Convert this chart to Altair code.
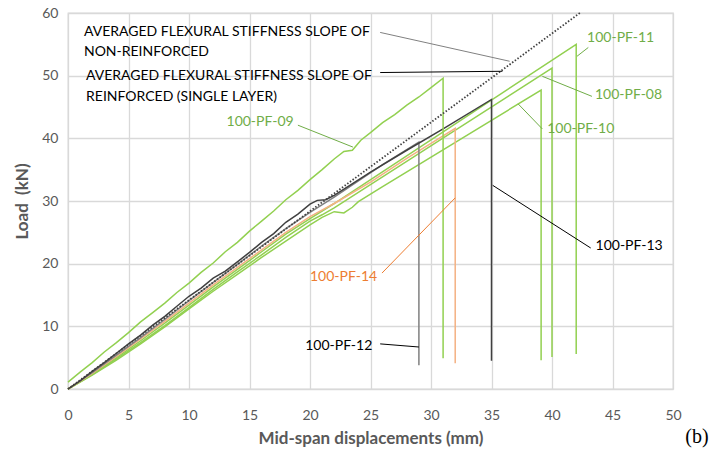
import altair as alt
import pandas as pd

# ---------------- data (mid-span displacement mm, load kN) ----------------
pf09_x = [0, 1, 2, 3, 4, 5, 6, 7, 8, 9, 10, 11, 12, 13, 14, 15, 16, 17, 18, 19, 20, 21, 22, 22.8, 23.5, 24.2, 25, 26, 27, 28, 29, 30, 31, 31]
pf09_y = [1.1, 2.7, 4.2, 5.9, 7.4, 9.0, 10.7, 12.2, 13.7, 15.4, 16.9, 18.6, 20.1, 21.9, 23.4, 25.2, 26.8, 28.4, 30.2, 31.7, 33.4, 35.0, 36.7, 37.9, 38.1, 39.7, 40.9, 42.5, 43.8, 45.3, 46.6, 48.1, 49.6, 4.9]

pf13_x = [0, 1, 2, 3, 4, 5, 6, 7, 8, 9, 10, 11, 12, 13, 14, 15, 16, 17, 18, 19, 20, 20.6, 21.3, 22, 25, 28, 31, 35, 35]
pf13_y = [0, 1.3, 2.8, 4.2, 5.7, 7.2, 8.6, 10.2, 11.6, 13.2, 14.8, 16.1, 17.7, 18.8, 20.3, 21.8, 23.4, 24.8, 26.6, 27.9, 29.5, 30.1, 30.2, 30.9, 34.6, 38.1, 41.5, 46.2, 4.5]

pf12_x = [0, 2, 4, 6, 8, 10, 12, 14, 16, 18, 20, 22, 24, 26, 29, 29]
pf12_y = [0, 2.6, 5.4, 8.2, 11.1, 14.1, 17.0, 19.9, 22.8, 25.6, 28.2, 30.6, 33.2, 35.8, 39.4, 3.8]

pf14_x = [0, 2, 4, 6, 8, 10, 12, 14, 16, 18, 20, 22, 25, 28, 32, 32]
pf14_y = [0, 2.5, 5.2, 8.0, 10.8, 13.7, 16.6, 19.4, 22.2, 25.0, 27.5, 29.6, 33.0, 36.8, 41.6, 4.1]

pf11_x = [0, 2, 4, 6, 8, 10, 12, 14, 16, 18, 20, 22, 42, 42]
pf11_y = [0, 2.4, 5.0, 7.7, 10.5, 13.4, 16.3, 19.1, 21.9, 24.7, 27.2, 29.6, 55.0, 5.6]

pf08_x = [0, 2, 4, 6, 8, 10, 12, 14, 16, 18, 20, 21, 22, 40, 40]
pf08_y = [0, 2.3, 4.8, 7.4, 10.1, 13.0, 15.9, 18.7, 21.4, 24.2, 26.8, 27.8, 28.9, 51.2, 5.1]

pf10_x = [0, 2, 4, 6, 8, 10, 12, 14, 16, 18, 20, 21, 22, 22.8, 23.5, 24, 26, 39.1, 39.1]
pf10_y = [0, 2.2, 4.6, 7.2, 9.9, 12.8, 15.6, 18.3, 21.0, 23.6, 26.2, 27.4, 28.3, 28.1, 29.0, 29.9, 32.3, 47.7, 4.6]

avg_x = [0, 42.3]
avg_y = [0, 60]

series = [
    ("100-PF-10", pf10_x, pf10_y, "#92D050"),
    ("100-PF-08", pf08_x, pf08_y, "#92D050"),
    ("100-PF-11", pf11_x, pf11_y, "#92D050"),
    ("100-PF-14", pf14_x, pf14_y, "#F4B183"),
    ("100-PF-12", pf12_x, pf12_y, "#808080"),
    ("100-PF-13", pf13_x, pf13_y, "#404040"),
    ("100-PF-09", pf09_x, pf09_y, "#92D050"),
]

rows = []
for name, xs_, ys_, _ in series:
    for i, (a, b) in enumerate(zip(xs_, ys_)):
        rows.append({"series": name, "idx": i, "disp": a, "load": b})
df = pd.DataFrame(rows)
avg_df = pd.DataFrame({"disp": avg_x, "load": avg_y, "idx": [0, 1]})

# annotation labels
lab_text = ["AVERAGED FLEXURAL STIFFNESS SLOPE OF", "NON-REINFORCED",
            "AVERAGED FLEXURAL STIFFNESS SLOPE OF", "REINFORCED (SINGLE LAYER)",
            "100-PF-09", "100-PF-11", "100-PF-08", "100-PF-10",
            "100-PF-13", "100-PF-14", "100-PF-12"]
lab_x = [1.32, 1.32, 1.49, 1.49, 13.1, 42.9, 43.55, 39.6, 43.6, 20.0, 19.6]
lab_y = [56.9, 53.7, 49.9, 46.6, 42.6, 56.0, 46.9, 41.5, 22.8, 17.9, 6.9]
lab_col = ["#000000", "#000000", "#000000", "#000000",
           "#70AD47", "#70AD47", "#70AD47", "#70AD47",
           "#000000", "#ED7D31", "#000000"]
labels = pd.DataFrame({"t": lab_text, "x": lab_x, "y": lab_y, "c": lab_col})

# leader lines
ld_x1 = [25.8, 25.8, 19.0, 43.0, 43.3, 39.2, 43.2, 25.95, 25.8]
ld_y1 = [56.9, 50.5, 42.1, 54.5, 46.7, 41.5, 22.5, 18.5, 7.2]
ld_x2 = [36.5, 35.9, 23.55, 42.07, 39.2, 37.2, 35.1, 32.0, 29.0]
ld_y2 = [52.3, 50.7, 38.6, 53.1, 49.9, 45.5, 32.5, 30.5, 6.7]
ld_col = ["#808080", "#000000", "#70AD47", "#70AD47", "#70AD47", "#70AD47",
          "#000000", "#ED7D31", "#000000"]
leaders = pd.DataFrame({"x": ld_x1, "y": ld_y1, "x2": ld_x2, "y2": ld_y2, "c": ld_col})

# ---------------- chart ----------------
xs = alt.Scale(domain=[0, 50], nice=False)
ys = alt.Scale(domain=[0, 60], nice=False)

x_axis = alt.Axis(values=list(range(0, 51, 5)), title="Mid-span displacements (mm)",
                  labelPadding=19, titlePadding=8, labelFlush=False)
y_axis = alt.Axis(values=list(range(0, 61, 10)), title="Load\u00a0 (kN)",
                  labelPadding=10, titlePadding=10, labelFlush=False)

lines = alt.Chart(df).mark_line(strokeWidth=1.5).encode(
    x=alt.X("disp:Q", scale=xs, axis=x_axis),
    y=alt.Y("load:Q", scale=ys, axis=y_axis),
    color=alt.Color("series:N",
                    scale=alt.Scale(domain=[s[0] for s in series], range=[s[3] for s in series]),
                    legend=None),
    order="idx:Q",
    detail="series:N",
)

avg_line = alt.Chart(avg_df).mark_line(strokeWidth=1.8, color="#404040", strokeDash=[1.5, 1.8]).encode(
    x=alt.X("disp:Q", scale=xs),
    y=alt.Y("load:Q", scale=ys),
    order="idx:Q",
)

leader_layer = alt.Chart(leaders).mark_rule(strokeWidth=1).encode(
    x=alt.X("x:Q", scale=xs), y=alt.Y("y:Q", scale=ys),
    x2="x2:Q", y2="y2:Q",
    color=alt.Color("c:N", scale=None),
)

text_layer = alt.Chart(labels).mark_text(align="left", baseline="middle", font="Lato", fontSize=14).encode(
    x=alt.X("x:Q", scale=xs), y=alt.Y("y:Q", scale=ys),
    text="t:N",
    color=alt.Color("c:N", scale=None),
)

b_label = alt.Chart(pd.DataFrame({"t": ["(b)"]})).mark_text(
    align="center", baseline="middle", font="Liberation Serif", fontSize=20, color="#000000"
).encode(x=alt.value(629), y=alt.value(424), text="t:N")

chart = alt.layer(lines, avg_line, leader_layer, text_layer, b_label).properties(
    width=605, height=376,
    autosize=alt.AutoSizeParams(type="none"),
    padding={"left": 68, "top": 13, "right": 40, "bottom": 70},
    background="white",
).configure_view(
    stroke="#D9D9D9", strokeWidth=1.3
).configure_axis(
    labelFont="Lato", labelFontSize=14, labelColor="#595959",
    titleFont="Lato", titleFontSize=17, titleColor="#595959", titleFontWeight="bold",
    gridColor="#D9D9D9", gridWidth=1.3, domain=False, ticks=False,
)

chart.save("out.html", embed_options={"renderer": "svg", "actions": False})
